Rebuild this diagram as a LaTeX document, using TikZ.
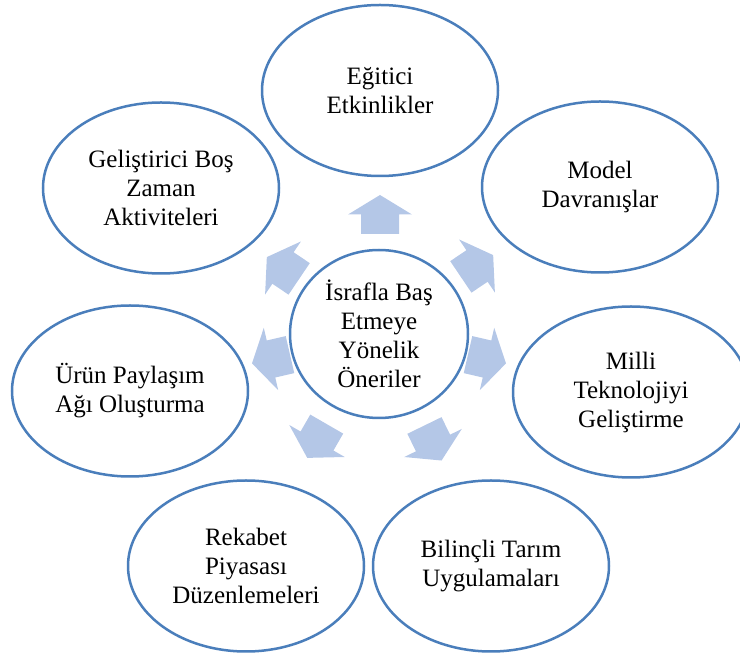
\documentclass[tikz,border=0pt]{standalone}
\usepackage{fontspec}
\setmainfont{Liberation Serif}
\usetikzlibrary{shapes.geometric}
\definecolor{edgeblue}{RGB}{74,126,187}
\definecolor{arrowblue}{RGB}{180,199,231}
\tikzset{
  bubble/.style={ellipse, draw=edgeblue, line width=2.5pt, fill=white, inner sep=0pt,
    align=center, font=\fontsize{25}{29}\selectfont,
    minimum width=236pt, minimum height=171pt},
  hub/.style={bubble, minimum width=178pt, minimum height=168pt},
  blockarrow/.style={fill=arrowblue, draw=none},
}
\newcommand{\blockarr}[2]{%
  \path[blockarrow, shift={(#1)}, rotate=#2]
    (-19.5,-19) -- (0,-19) -- (0,-32) -- (19.5,0) -- (0,32) -- (0,19) -- (-19.5,19) -- cycle;}
\begin{document}
\begin{tikzpicture}[x=1pt,y=1pt]
  \useasboundingbox (0,0) rectangle (740,659);
  \clip (0,0) rectangle (740,659);
  % arrow positions
  \coordinate (a1) at (380,444.5);
  \coordinate (a2) at (477,393);
  \coordinate (a3) at (487,300);
  \coordinate (a4) at (433,216);
  \coordinate (a5) at (317,218);
  \coordinate (a6) at (271,300);
  \coordinate (a7) at (283,391);
  \blockarr{a1}{90}
  \blockarr{a2}{34}
  \blockarr{a3}{-13}
  \blockarr{a4}{-64}
  \blockarr{a5}{-120}
  \blockarr{a6}{193}
  \blockarr{a7}{146}
  % nodes
  \node[hub] (c) at (379,325) {İsrafla Baş\\Etmeye\\Yönelik\\Öneriler};
  \node[bubble] (e1) at (380,568.5) {Eğitici\\Etkinlikler};
  \node[bubble] (e2) at (600,472) {Model\\Davranışlar};
  \node[bubble] (e3) at (631,267) {Milli\\Teknolojiyi\\Geliştirme};
  \node[bubble] (e4) at (491,93) {Bilinçli Tarım\\Uygulamaları};
  \node[bubble] (e5) at (246,93) {Rekabet\\Piyasası\\Düzenlemeleri};
  \node[bubble] (e6) at (130,268) {Ürün Paylaşım\\Ağı Oluşturma};
  \node[bubble] (e7) at (161,471) {Geliştirici Boş\\Zaman\\Aktiviteleri};
\end{tikzpicture}
\end{document}
